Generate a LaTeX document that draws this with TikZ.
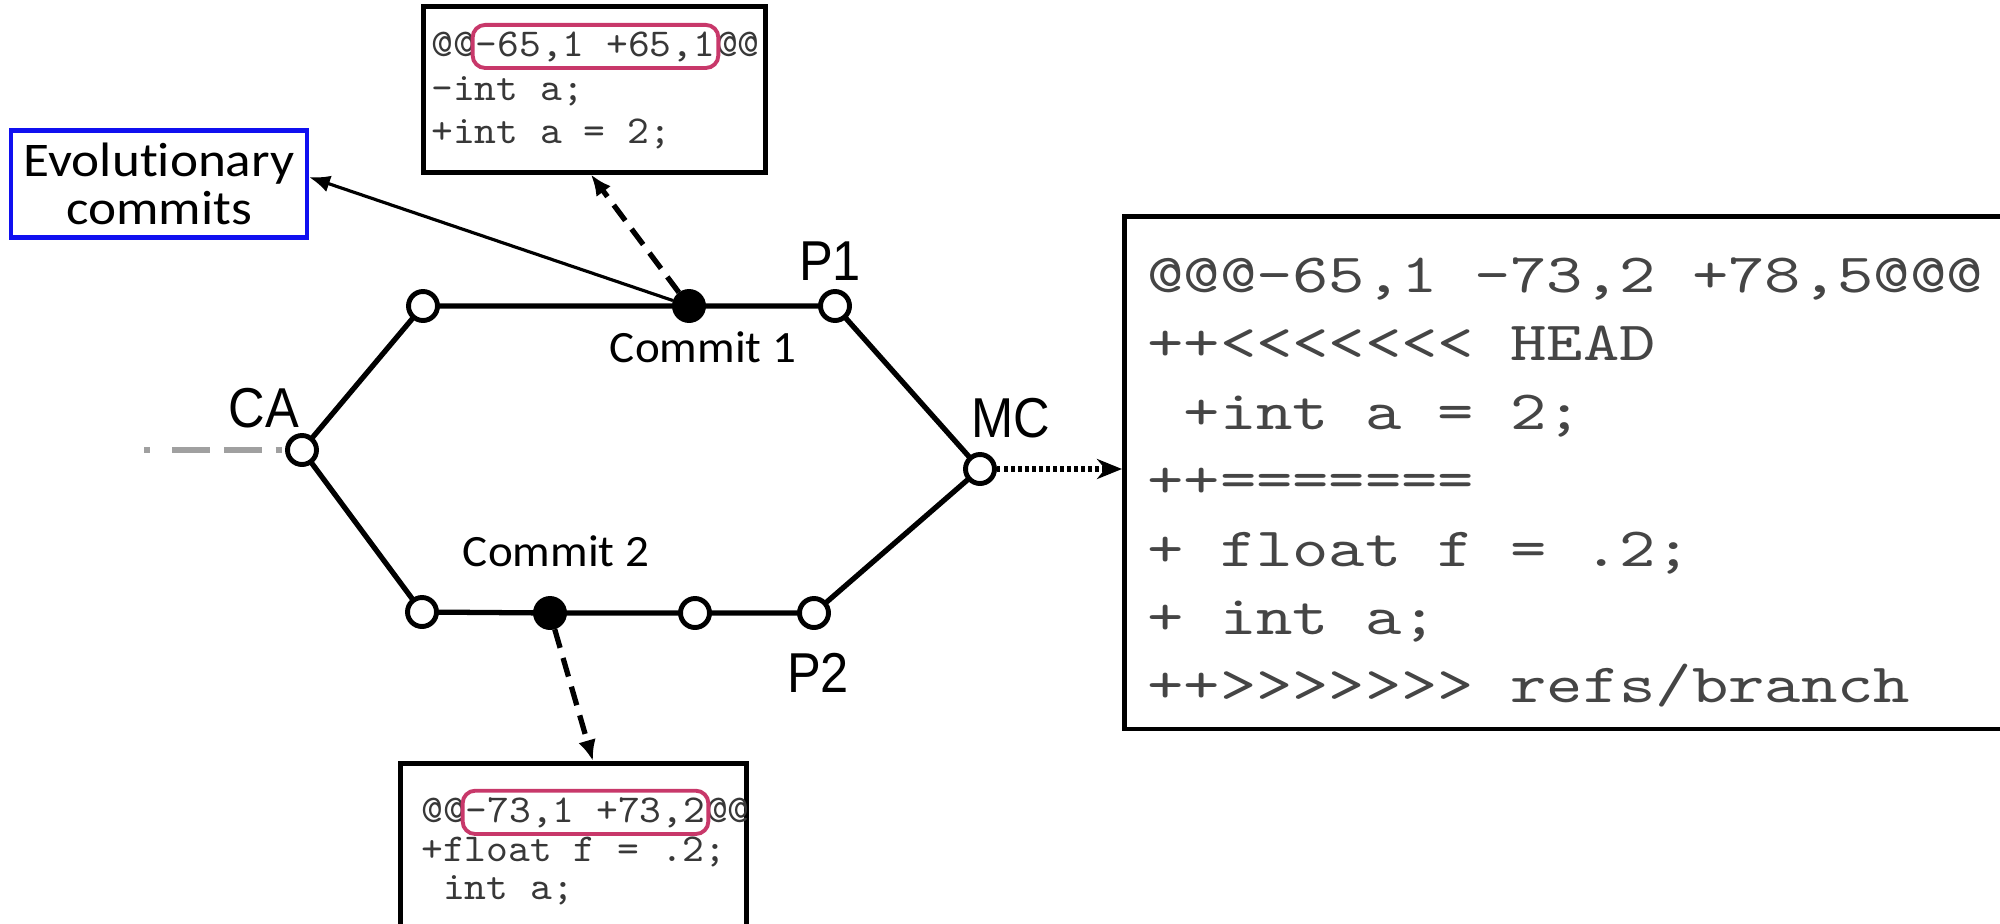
\documentclass[tikz,border=0pt]{standalone}
\usepackage{fontspec}
\usetikzlibrary{arrows.meta,fit,calc}
\newfontfamily\calibri[FakeStretch=1.1,Ligatures=NoCommon]{Carlito}
\newfontfamily\calibrilbl[FakeStretch=1.05,Ligatures=NoCommon]{Carlito}
\newfontfamily\arial[FakeStretch=0.9]{Liberation Sans}
\newfontfamily\smallcodefont[FakeStretch=1.05]{lmmono10-regular.otf}
\newfontfamily\bigcodefont[FakeStretch=1.25]{lmmono10-regular.otf}
\definecolor{codegray}{HTML}{454545}
\definecolor{smallgray}{HTML}{383838}
\definecolor{hlpink}{HTML}{C8386A}
\definecolor{evoblue}{HTML}{1010F0}
\definecolor{tailgray}{HTML}{A0A0A0}
\pgfdeclarelayer{bg}
\pgfsetlayers{bg,main}
\begin{document}
\begin{tikzpicture}[x=0.02cm, y=-0.02cm,
  commit/.style={circle, draw, line width=2.8pt, fill=white,
    minimum size=0.58cm, inner sep=0pt},
  done/.style={commit, fill=black},
  branch/.style={line width=3pt},
  codebox/.style={draw, line width=2.6pt, fill=white, anchor=north west, inner sep=0pt},
  small code/.style={anchor=base west, inner sep=0pt, text=smallgray,
    font=\smallcodefont\fontsize{22.5}{24}\selectfont},
  big code/.style={anchor=base west, inner sep=0pt, text=codegray,
    font=\bigcodefont\fontsize{31.5}{36}\selectfont},
  hunk/.style={draw=hlpink, line width=2.2pt, rounded corners=0.25cm,
    inner xsep=1.5pt, inner ysep=3.5pt},
  tag/.style={font=\arial\fontsize{32}{32}\selectfont, inner sep=0pt},
  note/.style={font=\calibrilbl\fontsize{25.5}{28}\selectfont, inner sep=0pt},
  link/.style={line width=3pt, dash pattern=on 11pt off 6pt,
    -{Latex[length=0.42cm,width=0.36cm]}}
]
\useasboundingbox (0,0) rectangle (2000,923);

% ---- code boxes ----
\node[codebox, minimum width=6.84cm, minimum height=3.32cm] (topbox) at (421,4) {};
\node[codebox, minimum width=17.9cm, minimum height=10.26cm] (rbox) at (1122,214) {};
\node[codebox, minimum width=6.92cm, minimum height=3.9cm] (botbox) at (398,761) {};

% hunk of commit 1
\node[small code] (ta1) at (431,56) {@@};
\node[small code] (tb1) at (ta1.base east) {-65,1 +65,1};
\node[small code] (tc1) at (tb1.base east) {@@};
\node[small code] (ta2) at (431,100) {-int a;};
\node[small code] (ta3) at (431,143) {+int a = 2;};
\node[hunk, fit=(tb1)] (hl1) {};

% hunk of commit 2
\node[small code] (ba1) at (421,822) {@@};
\node[small code] (bb1) at (ba1.base east) {-73,1 +73,2};
\node[small code] (bc1) at (bb1.base east) {@@};
\node[small code] (ba2) at (421,861) {+float f = .2;};
\node[small code] (ba3) at (421,899) {\hphantom{+}int a;};
\node[hunk, fit=(bb1)] (hl2) {};

% merged conflict hunk
\node[big code] (r1) at (1147,292) {@@@-65,1 -73,2 +78,5@@@};
\node[big code] (r2) at (1147,360) {++<<<<<<< HEAD};
\node[big code] (r3) at (1147,429) {\hphantom{+}+int a = 2;};
\node[big code] (r4) at (1147,497) {++=======};
\node[big code] (r5) at (1147,566) {+ float f = .2;};
\node[big code] (r6) at (1147,634) {+ int a;};
\node[big code] (r7) at (1147,702) {++>>>>>>> refs/branch};

% ---- commit graph ----
\node[commit] (ca) at (302,450) {};
\node[commit] (u1) at (423,306) {};
\node[done]   (c1) at (689,306) {};
\node[commit] (p1) at (835,306) {};
\node[commit] (mc) at (980,469) {};
\node[commit] (l1) at (422,612) {};
\node[done]   (c2) at (550,613) {};
\node[commit] (l3) at (695,613) {};
\node[commit] (p2) at (814,613) {};

\begin{pgfonlayer}{bg}
  \draw[branch] (ca.center) -- (u1.center) -- (c1.center) -- (p1.center) -- (mc.center);
  \draw[branch] (ca.center) -- (l1.center) -- (c2.center) -- (l3.center) -- (p2.center) -- (mc.center);
  \coordinate (tail) at (144,450);
  \draw[tailgray, line width=3pt,
    dash pattern=on 3.4pt off 12.5pt on 21.5pt off 8pt on 21.5pt off 8pt]
    (tail) -- (ca.center);
\end{pgfonlayer}

\node[tag] (lca) at (264,408) {CA};
\node[tag] (lp1) at (830,261) {P1};
\node[tag] (lmc) at (1011,418) {MC};
\node[tag] (lp2) at (818,673) {P2};
\node[note] (lc1) at (703,347) {Commit 1};
\node[note] (lc2) at (556,551) {Commit 2};

% ---- annotation ----
\node[draw=evoblue, line width=2.3pt, minimum width=5.92cm, minimum height=2.14cm,
  align=center, font=\calibri\fontsize{27.5}{27.5}\selectfont] (evo) at (159,184)
  {Evolutionary\\commits};

% ---- connectors ----
\draw[line width=1.8pt, -{Latex[length=0.42cm,width=0.34cm]}] (c1) -- ([yshift=0.14cm]evo.east);
\draw[link] (c1) -- ([xshift=3.4cm]topbox.south west);
\draw[link] (c2) -- ([xshift=3.9cm]botbox.north west);
\draw[line width=3pt, dash pattern=on 2pt off 2pt,
  -{Stealth[length=0.5cm,width=0.4cm]}] (mc) -- (mc -| rbox.west);
\end{tikzpicture}
\end{document}
